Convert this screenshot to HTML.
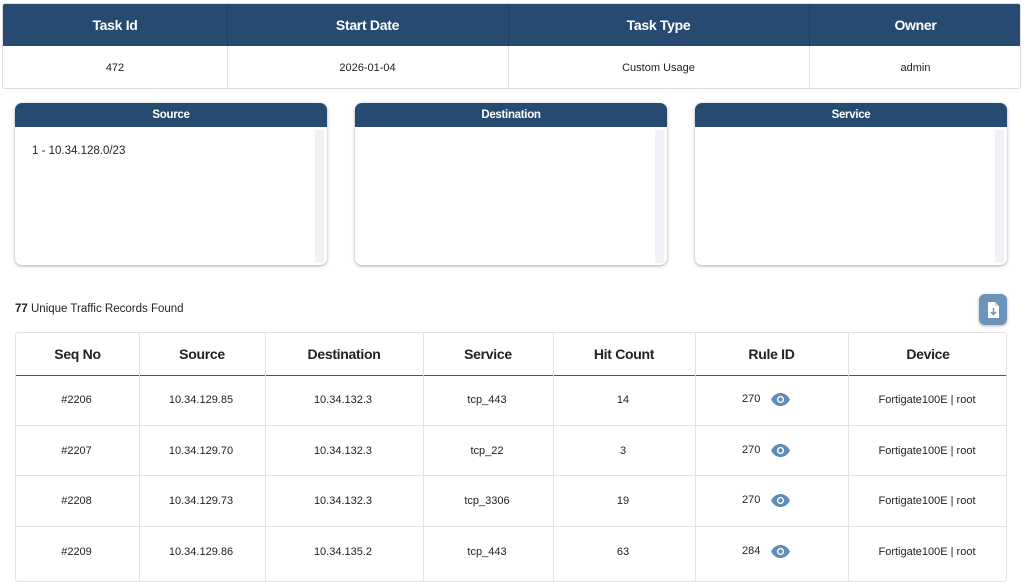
<!DOCTYPE html>
<html><head><meta charset="utf-8"><style>
*{box-sizing:border-box;margin:0;padding:0}
body{width:1024px;height:577px;overflow:hidden;background:#fff;font-family:"Liberation Sans",sans-serif;color:#222;position:relative}
.a{position:absolute}
.c{position:absolute;display:flex;align-items:center;justify-content:center;text-align:center}
.hd{background:#274a70;color:#fff}
.b{font-weight:bold;letter-spacing:-0.3px}
</style></head><body>
<div class="a" style="left:2px;top:3px;width:1019px;height:86px;border:1px solid #ddd;border-radius:3px;overflow:hidden">
  <div class="a hd" style="left:0;top:0;width:1019px;height:42px"></div>
  <div class="a" style="left:224px;top:0;width:1px;height:86px;background:#1f3e60"></div>
  <div class="a" style="left:505px;top:0;width:1px;height:86px;background:#1f3e60"></div>
  <div class="a" style="left:806px;top:0;width:1px;height:86px;background:#1f3e60"></div>
  <div class="a" style="left:224px;top:42px;width:1px;height:44px;background:#e2e2e2"></div>
  <div class="a" style="left:505px;top:42px;width:1px;height:44px;background:#e2e2e2"></div>
  <div class="a" style="left:806px;top:42px;width:1px;height:44px;background:#e2e2e2"></div>
  <div class="c b" style="left:0;top:0;width:224px;height:42px;color:#fff;font-size:14px">Task Id</div>
  <div class="c b" style="left:224px;top:0;width:281px;height:42px;color:#fff;font-size:14px">Start Date</div>
  <div class="c b" style="left:505px;top:0;width:301px;height:42px;color:#fff;font-size:14px">Task Type</div>
  <div class="c b" style="left:806px;top:0;width:213px;height:42px;color:#fff;font-size:14px">Owner</div>
  <div class="c" style="left:0;top:42px;width:224px;height:44px;font-size:11px">472</div>
  <div class="c" style="left:224px;top:42px;width:281px;height:44px;font-size:11px">2026-01-04</div>
  <div class="c" style="left:505px;top:42px;width:301px;height:44px;font-size:11px">Custom Usage</div>
  <div class="c" style="left:806px;top:42px;width:213px;height:44px;font-size:11px">admin</div>
</div>
<div class="a" style="left:15px;top:103px;width:312px;height:162px;border-radius:7px;box-shadow:0 1px 3px rgba(0,0,0,.35);overflow:hidden">
  <div class="c hd b" style="left:0;top:0;width:312px;height:24px;font-size:11.5px">Source</div>
  <div class="a" style="left:300px;top:27px;width:9px;height:133px;background:#f0f2f7"></div>
  <div class="a" style="left:17px;top:42px;font-size:11.5px">1 - 10.34.128.0/23</div>
</div>
<div class="a" style="left:355px;top:103px;width:312px;height:162px;border-radius:7px;box-shadow:0 1px 3px rgba(0,0,0,.35);overflow:hidden">
  <div class="c hd b" style="left:0;top:0;width:312px;height:24px;font-size:11.5px">Destination</div>
  <div class="a" style="left:300px;top:27px;width:9px;height:133px;background:#f0f2f7"></div>
</div>
<div class="a" style="left:695px;top:103px;width:312px;height:162px;border-radius:7px;box-shadow:0 1px 3px rgba(0,0,0,.35);overflow:hidden">
  <div class="c hd b" style="left:0;top:0;width:312px;height:24px;font-size:11.5px">Service</div>
  <div class="a" style="left:300px;top:27px;width:9px;height:133px;background:#f0f2f7"></div>
</div>
<div class="a" style="left:15px;top:303px;font-size:11.5px"><b>77</b> Unique Traffic Records Found</div>
<div class="a" style="left:979px;top:294px;width:28px;height:31px;border-radius:6px;background:#6c94ba;box-shadow:0 1px 3px rgba(0,0,0,.3)">
  <svg width="28" height="31" viewBox="0 0 28 31"><path d="M9 8h7l4 4v12H9z" fill="#fff"/><path d="M16 8v4h4" fill="#cfdbe7"/><path d="M14.5 14v6M12 18l2.5 2.5L17 18" stroke="#6c94ba" stroke-width="1.5" fill="none"/></svg>
</div>
<div class="a" style="left:15px;top:332px;width:992px;height:250px;border:1px solid #e2e2e2;border-radius:3px;overflow:hidden">
  <div class="a" style="left:0;top:42px;width:992px;height:1px;background:#555"></div>
  <div class="a" style="left:0;top:92px;width:992px;height:1px;background:#e2e2e2"></div>
  <div class="a" style="left:0;top:142px;width:992px;height:1px;background:#e2e2e2"></div>
  <div class="a" style="left:0;top:193px;width:992px;height:1px;background:#e2e2e2"></div>
  <div class="a" style="left:123px;top:0;width:1px;height:250px;background:#e2e2e2"></div>
  <div class="a" style="left:249px;top:0;width:1px;height:250px;background:#e2e2e2"></div>
  <div class="a" style="left:407px;top:0;width:1px;height:250px;background:#e2e2e2"></div>
  <div class="a" style="left:537px;top:0;width:1px;height:250px;background:#e2e2e2"></div>
  <div class="a" style="left:679px;top:0;width:1px;height:250px;background:#e2e2e2"></div>
  <div class="a" style="left:832px;top:0;width:1px;height:250px;background:#e2e2e2"></div>
  <div class="c b" style="left:0;top:0;width:123px;height:42px;font-size:14px">Seq No</div>
  <div class="c b" style="left:123px;top:0;width:126px;height:42px;font-size:14px">Source</div>
  <div class="c b" style="left:249px;top:0;width:158px;height:42px;font-size:14px">Destination</div>
  <div class="c b" style="left:407px;top:0;width:130px;height:42px;font-size:14px">Service</div>
  <div class="c b" style="left:537px;top:0;width:142px;height:42px;font-size:14px">Hit Count</div>
  <div class="c b" style="left:679px;top:0;width:153px;height:42px;font-size:14px">Rule ID</div>
  <div class="c b" style="left:832px;top:0;width:160px;height:42px;font-size:14px">Device</div>
</div>
<div id="rows"></div>
<script>
var d=[["#2206","10.34.129.85","10.34.132.3","tcp_443","14","270"],["#2207","10.34.129.70","10.34.132.3","tcp_22","3","270"],["#2208","10.34.129.73","10.34.132.3","tcp_3306","19","270"],["#2209","10.34.129.86","10.34.135.2","tcp_443","63","284"]];
var xs=[15,138,264,422,552,694,847,1007],h="";
d.forEach(function(r,i){var y=375+i*50.5;
for(var j=0;j<5;j++)h+='<div class="c" style="left:'+xs[j]+'px;top:'+y+'px;width:'+(xs[j+1]-xs[j])+'px;height:50px;font-size:11px">'+r[j]+'</div>';
h+='<div class="a" style="left:742px;top:'+(y+18)+'px;font-size:11px">'+r[5]+'</div>';
h+='<svg class="a" style="left:770px;top:'+(y+17)+'px" width="21" height="15" viewBox="0 0 21 15"><path d="M1 7.5C4 2 8 1 10.5 1S17 2 20 7.5C17 13 13 14 10.5 14S4 13 1 7.5z" fill="#5f8db6"/><circle cx="10.5" cy="7.5" r="3.6" fill="#fff"/><circle cx="10.5" cy="7.5" r="2.2" fill="#5f8db6"/></svg>';
h+='<div class="c" style="left:847px;top:'+y+'px;width:160px;height:50px;font-size:11px">Fortigate100E | root</div>';});
document.getElementById("rows").innerHTML=h;
</script>
</body></html>
